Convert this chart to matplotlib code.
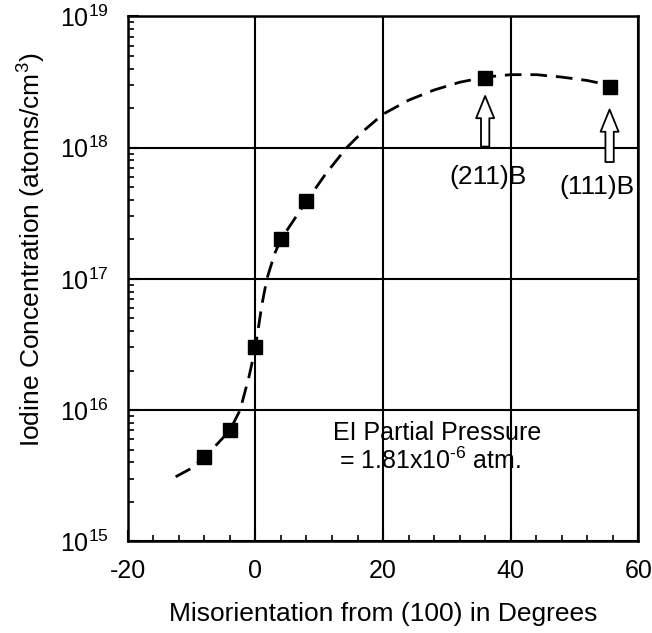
"""Iodine concentration vs misorientation angle, log scale."""

import matplotlib
matplotlib.use("Agg")
import matplotlib.pyplot as plt
from matplotlib.ticker import MultipleLocator, LogLocator, NullFormatter, FixedLocator

plt.rcParams["font.family"] = ["Liberation Sans", "DejaVu Sans"]
plt.rcParams["mathtext.fontset"] = "custom"
plt.rcParams["mathtext.rm"] = "Liberation Sans"
plt.rcParams["mathtext.it"] = "Liberation Sans"
plt.rcParams["axes.unicode_minus"] = False

# measured points
angle = [-8, -4, 0, 4, 8, 36, 55.5]
conc = [4.4e15, 7.0e15, 3.0e16, 2.0e17, 3.9e17, 3.4e18, 2.9e18]

# hand-drawn trend curve
fit_angle = [-12.5, -10, -8, -6, -4, -2.4, -1, 0, 1, 1.8, 3, 4, 6, 8,
             11, 14.3, 17, 20, 24, 28, 32, 36, 40, 44, 48, 52, 54]
fit_conc = [3.1e15, 3.6e15, 4.4e15, 5.5e15, 7.0e15, 1.0e16, 1.8e16, 3.0e16,
            6.3e16, 1.0e17, 1.55e17, 2.0e17, 2.8e17, 3.9e17, 6.3e17, 1.0e18,
            1.35e18, 1.8e18, 2.3e18, 2.75e18, 3.15e18, 3.45e18, 3.6e18,
            3.6e18, 3.45e18, 3.25e18, 3.1e18]

decades = [1e15, 1e16, 1e17, 1e18, 1e19]
decade_labels = ["10$^{15}$", "10$^{16}$", "10$^{17}$", "10$^{18}$", "10$^{19}$"]
x_ticks = [-20, 0, 20, 40, 60]
x_labels = ["-20", "0", "20", "40", "60"]

fig = plt.figure(figsize=(6.52, 6.33), dpi=100)
ax = fig.add_axes([0.196, 0.145, 0.783, 0.829])

ax.plot(fit_angle, fit_conc, color="black", linewidth=2.0, linestyle=(0, (6, 3.2)))
ax.plot(angle, conc, linestyle="none", marker="s", markersize=10, color="black")

ax.set_yscale("log")
ax.set_xlim(-20, 60)
ax.set_ylim(1e15, 1e19)

ax.xaxis.set_major_locator(FixedLocator(x_ticks))
ax.set_xticklabels(x_labels)
ax.xaxis.set_minor_locator(MultipleLocator(4))
ax.yaxis.set_major_locator(FixedLocator(decades))
ax.set_yticklabels(decade_labels)
ax.yaxis.set_minor_locator(LogLocator(base=10, subs=range(2, 10), numticks=20))
ax.yaxis.set_minor_formatter(NullFormatter())

ax.tick_params(which="both", direction="in", top=False, right=False, labelsize=18)
ax.tick_params(which="major", length=8, width=1.5)
ax.tick_params(which="minor", length=4, width=1.2)
ax.tick_params(axis="x", pad=12.5)
ax.tick_params(axis="y", pad=14)

ax.grid(True, which="major", color="black", linewidth=1.5)
for s in ax.spines.values():
    s.set_linewidth(1.8)

ax.set_xlabel("Misorientation from (100) in Degrees", fontsize=19, labelpad=14)
ax.set_ylabel("Iodine Concentration (atoms/cm$^3$)", fontsize=19, labelpad=8, y=0.555)

# hollow arrows marking the (211)B and (111)B orientations
arrow_style = dict(arrowstyle="simple,head_length=1.6,head_width=1.3,tail_width=0.6",
                   fc="white", ec="black", lw=1.3)
ax.annotate("", xy=(36, 2.6e18), xytext=(36, 0.97e18), arrowprops=arrow_style)
ax.annotate("", xy=(55.5, 2.05e18), xytext=(55.5, 7.4e17), arrowprops=arrow_style)
ax.text(36.5, 6.0e17, "(211)B", fontsize=19, ha="center", va="center")
ax.text(53.5, 5.0e17, "(111)B", fontsize=19, ha="center", va="center")

ax.text(28.5, 6.7e15, "EI Partial Pressure", fontsize=18, ha="center", va="center")
ax.text(27.4, 4.1e15, "= 1.81x10$^{\\text{-6}}$ atm.", fontsize=18, ha="center", va="center")

fig.savefig("out.png", dpi=100)
plt.close(fig)
